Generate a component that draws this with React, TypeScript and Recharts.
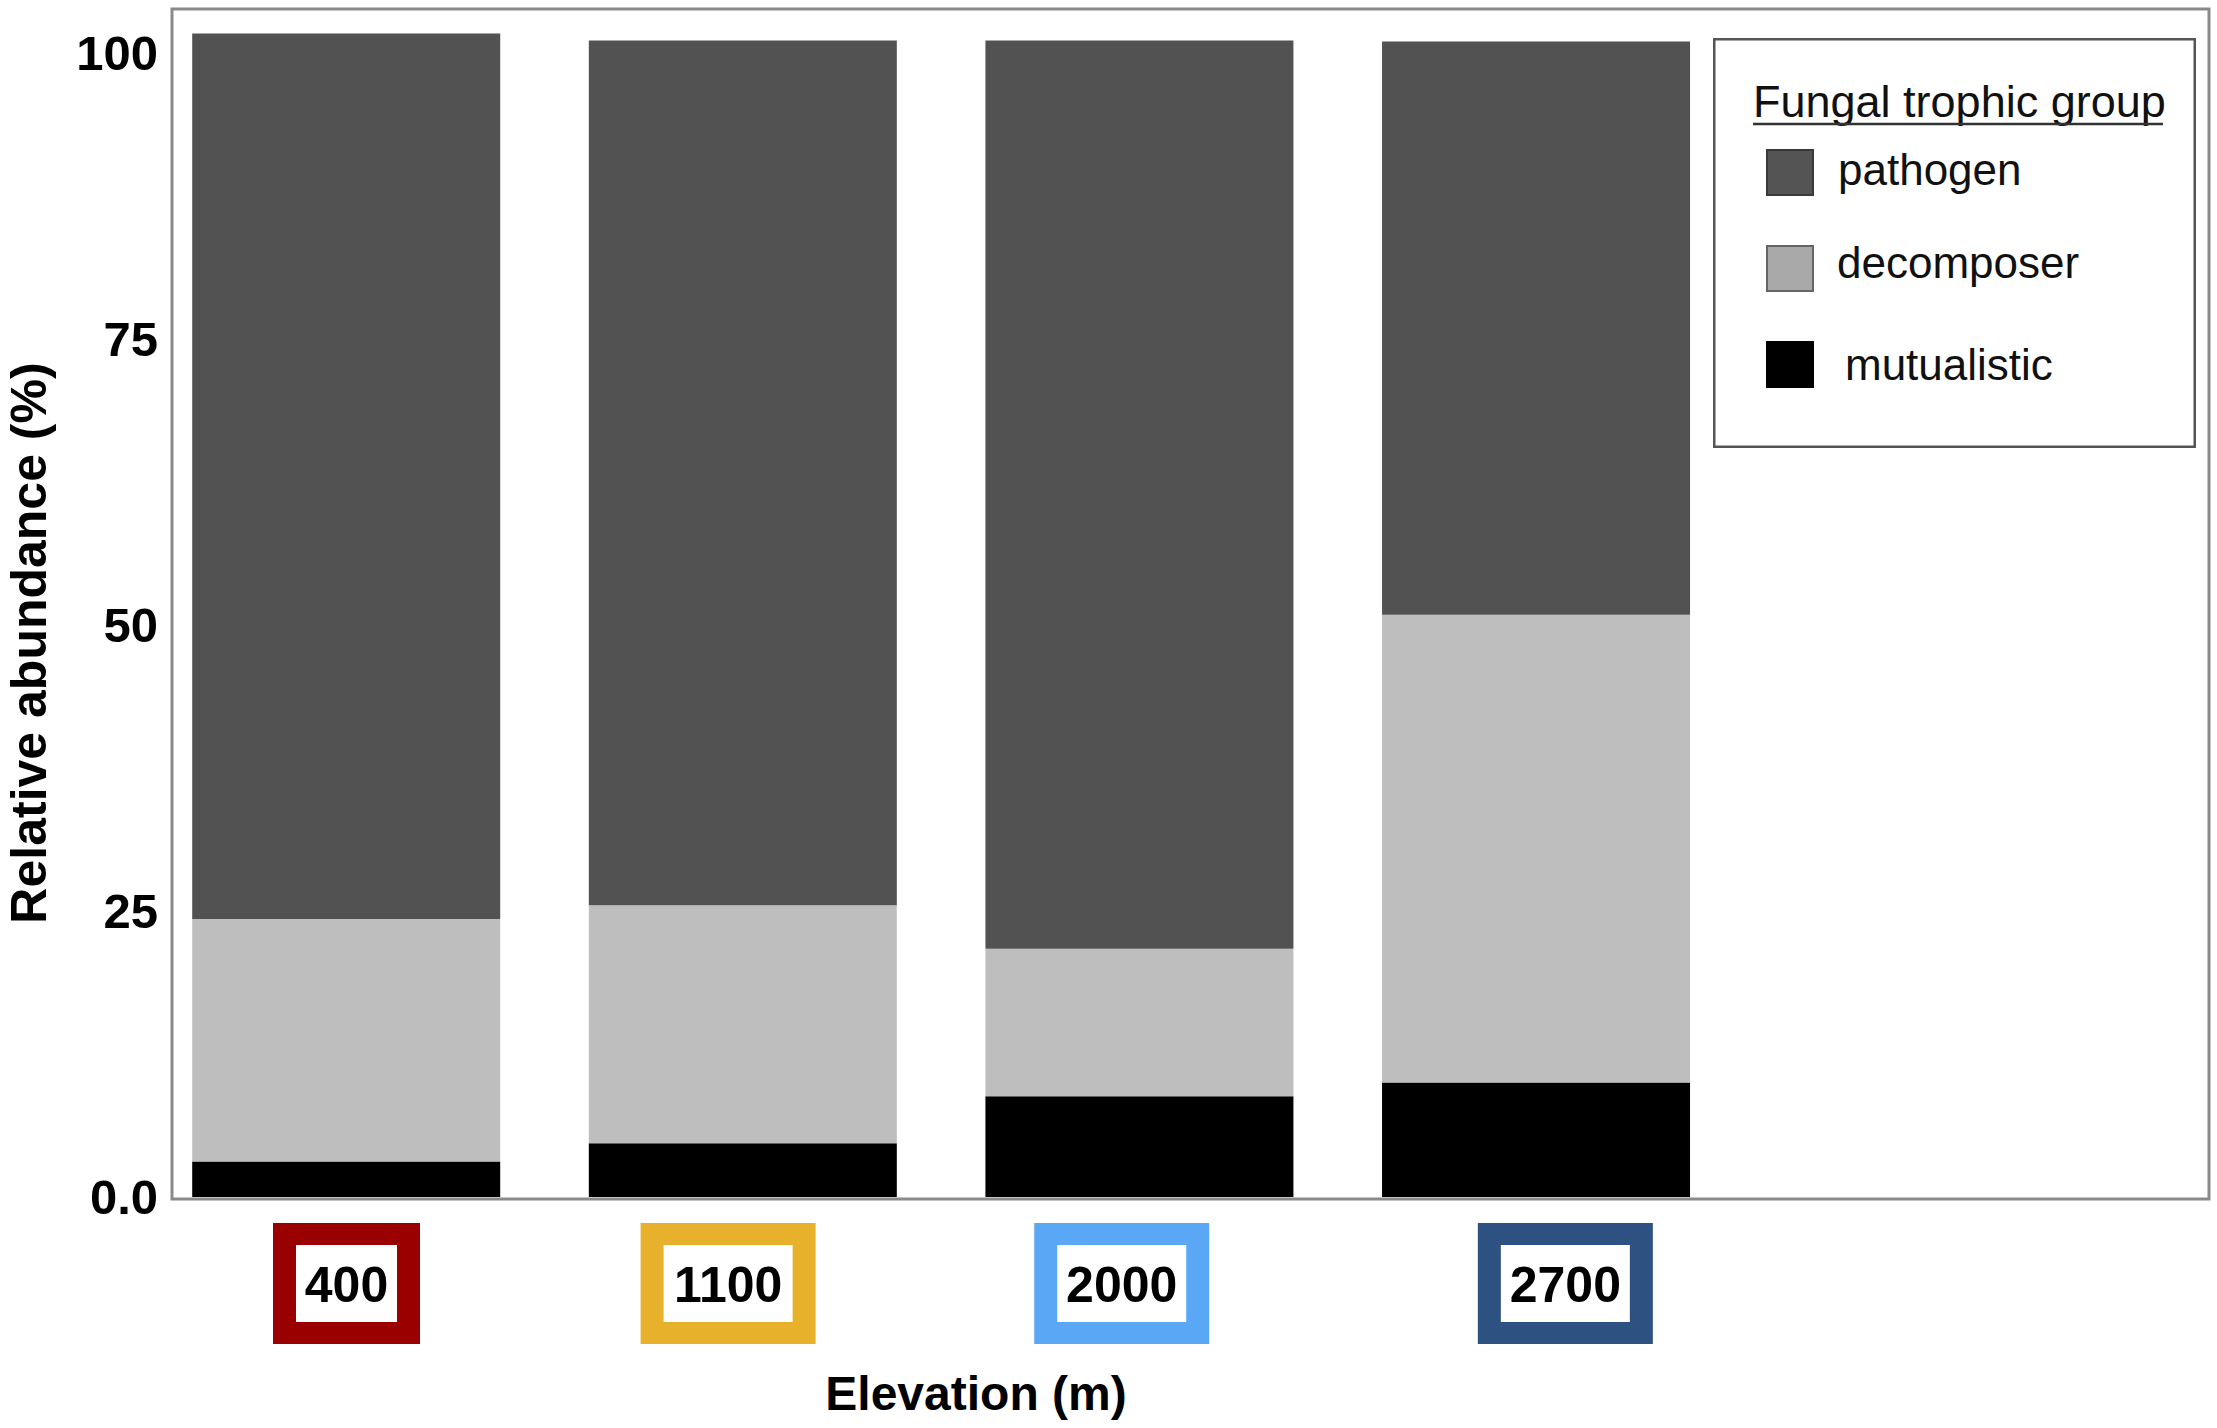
import { BarChart, Bar, XAxis, YAxis, Legend, Label, ReferenceArea } from "recharts";

// elevation classes, in plotting order
const ELEVATIONS = ["400", "1100", "2000", "2700"];
const POSITIONS = [1, 2, 3, 4];

// relative abundance (%) per trophic group
const MUTUALISTIC = [3.1, 4.7, 8.8, 10.0];
const DECOMPOSER = [21.2, 20.8, 12.9, 40.9];
const PATHOGEN = [77.4, 75.6, 79.4, 50.1];

const Y_TICKS = [0, 25, 50, 75, 100];

const GROUPS = ["pathogen", "decomposer", "mutualistic"];

const ELEV_COLORS = ["#9a0000", "#e8b12b", "#5aa8f5", "#2d5281"];
const TICK_NUDGE = [0, -15, -18, 29];

const FONT = '"Liberation Sans", Arial, Helvetica, sans-serif';

const data = POSITIONS.map((pos, i) => ({
  pos,
  elevation: ELEVATIONS[i],
  mutualistic: MUTUALISTIC[i],
  decomposer: DECOMPOSER[i],
  pathogen: PATHOGEN[i],
}));

const X_DOMAIN = [0.56, 5.696];
const Y_DOMAIN = [-0.175, 103.85];

function ElevationTick({ x, y, payload }: any) {
  const i = Math.round(payload.value) - 1;
  const label = ELEVATIONS[i];
  if (!label) return null;
  const w = 63 + 28 * label.length;
  const h = 121;
  const cx = x + TICK_NUDGE[i];
  const top = y + 24;
  return (
    <g>
      <rect x={cx - w / 2} y={top} width={w} height={h} fill={ELEV_COLORS[i]} />
      <rect x={cx - w / 2 + 23} y={top + 22} width={w - 46} height={h - 44} fill="#fff" />
      <text x={cx} y={top + h / 2 + 18} textAnchor="middle" fontSize={50} fontWeight={700} fill="#000" fontFamily={FONT}>
        {label}
      </text>
    </g>
  );
}

function LegendBox() {
  const swatch = [
    { fill: "#545454", stroke: "#3a3a3a" },
    { fill: "#a9a9a9", stroke: "#666" },
    { fill: "#000", stroke: "#000" },
  ];
  const textX = [125, 124, 132];
  const baseY = [147, 240, 342];
  return (
    <svg width={483} height={410} style={{ display: "block" }}>
      <rect x={1.25} y={1.25} width={480.5} height={407.5} fill="#fff" stroke="#555" strokeWidth={2.5} />
      <text x={40} y={79} fontSize={45} fill="#111" fontFamily={FONT}>
        Fungal trophic group
      </text>
      <line x1={40} x2={450} y1={86} y2={86} stroke="#333" strokeWidth={2.5} />
      {GROUPS.map((g, i) => (
        <g key={g}>
          <rect x={54} y={112 + i * 96} width={46} height={45} fill={swatch[i].fill} stroke={swatch[i].stroke} strokeWidth={2} />
          <text x={textX[i]} y={baseY[i]} fontSize={44} fill="#111" fontFamily={FONT}>
            {g}
          </text>
        </g>
      ))}
    </svg>
  );
}

export default function App() {
  return (
    <div style={{ position: "absolute", left: 0, top: 0, width: 2217, height: 1428, background: "#fff", fontFamily: FONT }}>
      <BarChart width={2217} height={1428} data={data} margin={{ top: 9, right: 8, left: 0, bottom: 0 }}>
        <XAxis
          type="number"
          dataKey="pos"
          domain={X_DOMAIN}
          ticks={POSITIONS}
          allowDataOverflow
          interval={0}
          height={229}
          tickLine={false}
          axisLine={false}
          tickSize={0}
          tickMargin={0}
          tick={<ElevationTick />}
        >
          <Label
            content={() => (
              <text x={976} y={1410} textAnchor="middle" fontSize={48} fontWeight={700} fill="#000" fontFamily={FONT}>
                Elevation (m)
              </text>
            )}
          />
        </XAxis>
        <YAxis
          type="number"
          domain={Y_DOMAIN}
          ticks={Y_TICKS}
          allowDataOverflow
          width={172}
          tickLine={false}
          axisLine={false}
          tickSize={0}
          tickMargin={14}
          tickFormatter={(v: number) => (v === 0 ? "0.0" : String(v))}
          tick={{ fontSize: 49, fontWeight: 700, fill: "#000", fontFamily: FONT }}
        >
          <Label
            content={() => (
              <text
                x={46}
                y={643}
                transform="rotate(-90 46 643)"
                textAnchor="middle"
                fontSize={50}
                fontWeight={700}
                fill="#000"
                fontFamily={FONT}
              >
                Relative abundance (%)
              </text>
            )}
          />
        </YAxis>
        <Bar dataKey="mutualistic" stackId="a" fill="#000000" barSize={308} isAnimationActive={false} />
        <Bar dataKey="decomposer" stackId="a" fill="#bebebe" barSize={308} isAnimationActive={false} />
        <Bar dataKey="pathogen" stackId="a" fill="#525252" barSize={308} isAnimationActive={false} />
        <ReferenceArea
          x1={X_DOMAIN[0]}
          x2={X_DOMAIN[1]}
          y1={Y_DOMAIN[0]}
          y2={Y_DOMAIN[1]}
          fill="none"
          stroke="#8a8a8a"
          strokeWidth={3}
          ifOverflow="visible"
        />
        <Legend
          layout="vertical"
          align="center"
          verticalAlign="middle"
          wrapperStyle={{ left: 1713, top: 38, width: 483, height: 410 }}
          content={() => <LegendBox />}
        />
      </BarChart>
    </div>
  );
}
